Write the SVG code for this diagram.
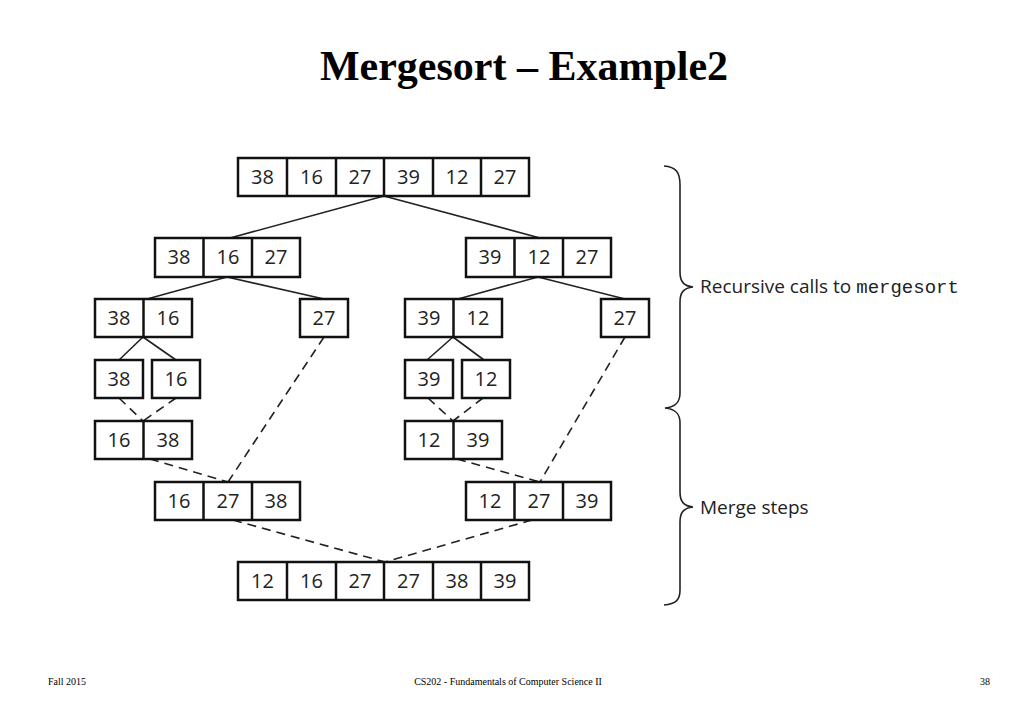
<svg xmlns="http://www.w3.org/2000/svg" width="1024" height="709" viewBox="0 0 1024 709">
<style>
.c{fill:#fff;stroke:#111;stroke-width:2.5}
.t{font-family:"Open Sans","Noto Sans",sans-serif;font-size:20px;fill:#222;text-anchor:middle}
.s{stroke:#222;stroke-width:1.6;fill:none}
.d{stroke:#222;stroke-width:1.6;fill:none;stroke-dasharray:9,6}
.lab{font-family:"Open Sans","Noto Sans",sans-serif;font-size:19px;fill:#222}
.mono{font-family:"Liberation Mono","Courier New",monospace;font-size:19px}
.f{font-family:"Liberation Serif","Times New Roman",serif;font-size:10px;fill:#000}
</style>
<rect width="1024" height="709" fill="#fff"/>
<text x="524" y="80" font-family="Liberation Serif,Times New Roman,serif" font-size="42" font-weight="bold" text-anchor="middle">Mergesort – Example2</text>

<g id="connectors">
<path class="s" d="M384,196 L230,238 M384,196 L540,238"/>
<path class="s" d="M227,277 L147,299 M227,277 L324,299"/>
<path class="s" d="M538,277 L458,299 M538,277 L625,299"/>
<path class="s" d="M143,337 L119,360 M143,337 L176,360"/>
<path class="s" d="M453,337 L427,360 M453,337 L484,360"/>
<path class="d" d="M119,398 L143,421 M176,398 L143,421"/>
<path class="d" d="M428,398 L453,421 M483,398 L453,421"/>
<path class="d" d="M324,337 L228,482 M150,459 L228,482"/>
<path class="d" d="M625,337 L540,482 M457,459 L540,482"/>
<path class="d" d="M233,520 L385,562 M532,520 L385,562"/>
</g>

<g id="n1">
<rect class="c" x="238" y="158" width="291" height="38"/>
<path class="c" d="M287,158V196M336,158V196M384,158V196M433,158V196M481,158V196"/>
<text class="t" y="184"><tspan x="262.5">38</tspan><tspan x="311.5">16</tspan><tspan x="360">27</tspan><tspan x="408.5">39</tspan><tspan x="457">12</tspan><tspan x="505">27</tspan></text>
</g>
<g id="n2">
<rect class="c" x="155" y="238" width="145" height="39"/>
<path class="c" d="M203.5,238V277M252,238V277"/>
<text class="t" y="264"><tspan x="179">38</tspan><tspan x="228">16</tspan><tspan x="276">27</tspan></text>
</g>
<g id="n3">
<rect class="c" x="466" y="238" width="145" height="39"/>
<path class="c" d="M514.5,238V277M563,238V277"/>
<text class="t" y="264"><tspan x="490">39</tspan><tspan x="539">12</tspan><tspan x="587">27</tspan></text>
</g>
<g id="n4">
<rect class="c" x="95" y="299" width="97" height="38"/>
<path class="c" d="M143.5,299V337"/>
<text class="t" y="325"><tspan x="119">38</tspan><tspan x="168">16</tspan></text>
</g>
<g id="n5">
<rect class="c" x="300" y="299" width="48" height="38"/>
<text class="t" x="324" y="325">27</text>
</g>
<g id="n6">
<rect class="c" x="405" y="299" width="97" height="38"/>
<path class="c" d="M453.5,299V337"/>
<text class="t" y="325"><tspan x="429">39</tspan><tspan x="478">12</tspan></text>
</g>
<g id="n7">
<rect class="c" x="601" y="299" width="48" height="38"/>
<text class="t" x="625" y="325">27</text>
</g>
<g id="n8">
<rect class="c" x="95" y="360" width="48" height="38"/>
<text class="t" x="119" y="386">38</text>
</g>
<g id="n9">
<rect class="c" x="152" y="360" width="48" height="38"/>
<text class="t" x="176" y="386">16</text>
</g>
<g id="n10">
<rect class="c" x="405" y="360" width="48" height="38"/>
<text class="t" x="429" y="386">39</text>
</g>
<g id="n11">
<rect class="c" x="462" y="360" width="48" height="38"/>
<text class="t" x="486" y="386">12</text>
</g>
<g id="n12">
<rect class="c" x="95" y="421" width="97" height="38"/>
<path class="c" d="M143.5,421V459"/>
<text class="t" y="447"><tspan x="119">16</tspan><tspan x="168">38</tspan></text>
</g>
<g id="n13">
<rect class="c" x="405" y="421" width="97" height="38"/>
<path class="c" d="M453.5,421V459"/>
<text class="t" y="447"><tspan x="429">12</tspan><tspan x="478">39</tspan></text>
</g>
<g id="n14">
<rect class="c" x="155" y="482" width="145" height="38"/>
<path class="c" d="M203.5,482V520M252,482V520"/>
<text class="t" y="508"><tspan x="179">16</tspan><tspan x="228">27</tspan><tspan x="276">38</tspan></text>
</g>
<g id="n15">
<rect class="c" x="466" y="482" width="145" height="38"/>
<path class="c" d="M514.5,482V520M563,482V520"/>
<text class="t" y="508"><tspan x="490">12</tspan><tspan x="539">27</tspan><tspan x="587">39</tspan></text>
</g>
<g id="n16">
<rect class="c" x="238" y="562" width="291" height="38"/>
<path class="c" d="M287,562V600M336,562V600M384,562V600M433,562V600M481,562V600"/>
<text class="t" y="588"><tspan x="262.5">12</tspan><tspan x="311.5">16</tspan><tspan x="360">27</tspan><tspan x="408.5">27</tspan><tspan x="457">38</tspan><tspan x="505">39</tspan></text>
</g>

<g id="brace">
<path class="s" d="M664,166 C676,167 680,172 680,185 L680,272 C680,282 684,286 693,287 C684,288 680,292 680,302 L680,393 C680,402 676,407 665,408 C676,409 680,414 680,423 L680,492 C680,502 684,506 693,507 C684,508 680,512 680,522 L680,590 C680,600 676,604 664,605"/>
<text class="lab" x="700" y="293">Recursive calls to <tspan class="mono">mergesort</tspan></text>
<text class="lab" x="700" y="514">Merge steps</text>
</g>

<text class="f" x="48" y="685">Fall 2015</text>
<text class="f" x="508" y="685" text-anchor="middle">CS202 - Fundamentals of Computer Science II</text>
<text class="f" x="985" y="685" text-anchor="middle">38</text>
</svg>
